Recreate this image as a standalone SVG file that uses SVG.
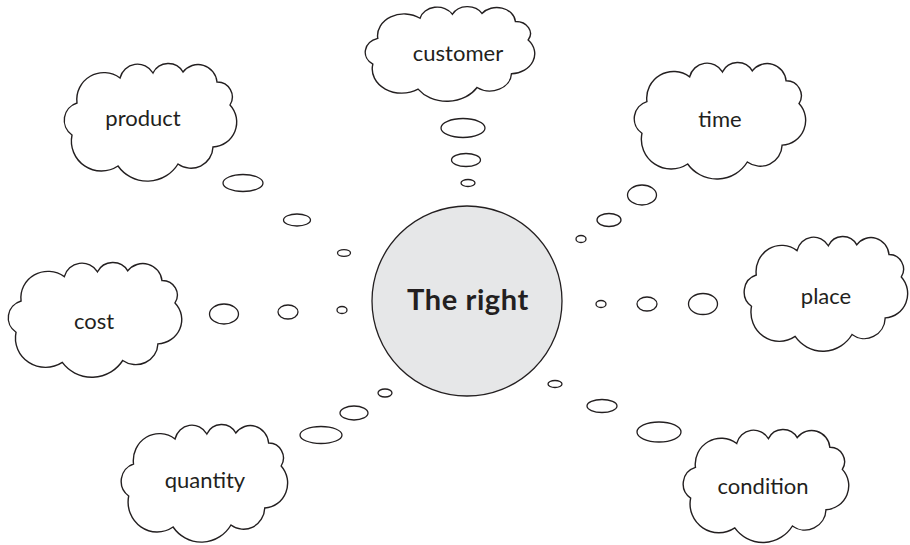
<svg xmlns="http://www.w3.org/2000/svg" xmlns:xlink="http://www.w3.org/1999/xlink" width="910" height="545" viewBox="0 0 910 545">
<style>
.cloud{fill:#fff;stroke:#231f20;stroke-width:1.4;vector-effect:non-scaling-stroke}
.bubble{fill:#fff;stroke:#231f20;stroke-width:1.3}
.lbl{font-family:Lato,"Liberation Sans",sans-serif;font-size:22px;fill:#231f20;text-anchor:middle}
.hub{fill:#e6e7e8;stroke:#231f20;stroke-width:1.3}
.hubtxt{font-family:Lato,"Liberation Sans",sans-serif;font-size:29px;font-weight:bold;letter-spacing:0.6px;fill:#231f20;text-anchor:middle}
</style>
<defs>
<path id="cloud" class="cloud" d="M14,39 A27,27 0 0 1 57,14 A18,18 0 0 1 90,9 A17,17 0 0 1 120,8 A19,19 0 0 1 154,18 A15,15 0 0 1 167,41 A25,25 0 0 1 150,83 A22,22 0 0 1 115,100 A36,36 0 0 1 55,102 A30,30 0 0 1 9,71 A18,18 0 0 1 14,39 Z"/>
</defs>
<rect width="910" height="545" fill="#fff"/>
<g id="connectors">
<ellipse class="bubble" cx="463" cy="128" rx="22" ry="9.5"/>
<ellipse class="bubble" cx="466" cy="160" rx="14.5" ry="6.5"/>
<ellipse class="bubble" cx="468" cy="183" rx="7" ry="3.5"/>
<ellipse class="bubble" cx="243" cy="183" rx="20" ry="8.5"/>
<ellipse class="bubble" cx="297" cy="220" rx="13.5" ry="6"/>
<ellipse class="bubble" cx="344" cy="253" rx="6.5" ry="3.3"/>
<ellipse class="bubble" cx="642" cy="195" rx="14.5" ry="10"/>
<ellipse class="bubble" cx="609" cy="220" rx="12" ry="6.5"/>
<ellipse class="bubble" cx="581" cy="239" rx="5" ry="3.5"/>
<ellipse class="bubble" cx="224" cy="314" rx="14.5" ry="10"/>
<ellipse class="bubble" cx="288" cy="312" rx="10" ry="7"/>
<ellipse class="bubble" cx="342" cy="310" rx="5" ry="3.5"/>
<ellipse class="bubble" cx="601" cy="304" rx="5" ry="3.5"/>
<ellipse class="bubble" cx="647" cy="304" rx="10" ry="7"/>
<ellipse class="bubble" cx="703" cy="304" rx="14.5" ry="10.5"/>
<ellipse class="bubble" cx="385" cy="393" rx="7" ry="4"/>
<ellipse class="bubble" cx="354" cy="413" rx="14" ry="7"/>
<ellipse class="bubble" cx="321" cy="435" rx="21" ry="8.5"/>
<ellipse class="bubble" cx="555" cy="384" rx="7" ry="3.5"/>
<ellipse class="bubble" cx="602" cy="406" rx="15" ry="6.5"/>
<ellipse class="bubble" cx="659" cy="432" rx="22" ry="10"/>
</g>
<g id="hub">
<circle class="hub" cx="467" cy="301" r="95"/>
<text class="hubtxt" x="468" y="310">The right</text>
</g>
<g id="product">
<use xlink:href="#cloud" href="#cloud" transform="translate(63,64)"/>
<text class="lbl" x="143" y="126">product</text>
</g>
<g id="customer">
<use xlink:href="#cloud" href="#cloud" transform="translate(364,7) scale(0.983,0.805)"/>
<text class="lbl" x="458" y="61">customer</text>
</g>
<g id="time">
<use xlink:href="#cloud" href="#cloud" transform="translate(633,63) scale(0.994,0.99)"/>
<text class="lbl" x="720" y="127">time</text>
</g>
<g id="place">
<use xlink:href="#cloud" href="#cloud" transform="translate(743,237) scale(0.948,0.975)"/>
<text class="lbl" x="826" y="304">place</text>
</g>
<g id="cost">
<use xlink:href="#cloud" href="#cloud" transform="translate(7,263) scale(1.006,0.975)"/>
<text class="lbl" x="94" y="329">cost</text>
</g>
<g id="quantity">
<use xlink:href="#cloud" href="#cloud" transform="translate(120,425) scale(0.965,1)"/>
<text class="lbl" x="205" y="488">quantity</text>
</g>
<g id="condition">
<use xlink:href="#cloud" href="#cloud" transform="translate(682,430) scale(0.96,0.96)"/>
<text class="lbl" x="763" y="494">condition</text>
</g>
</svg>
